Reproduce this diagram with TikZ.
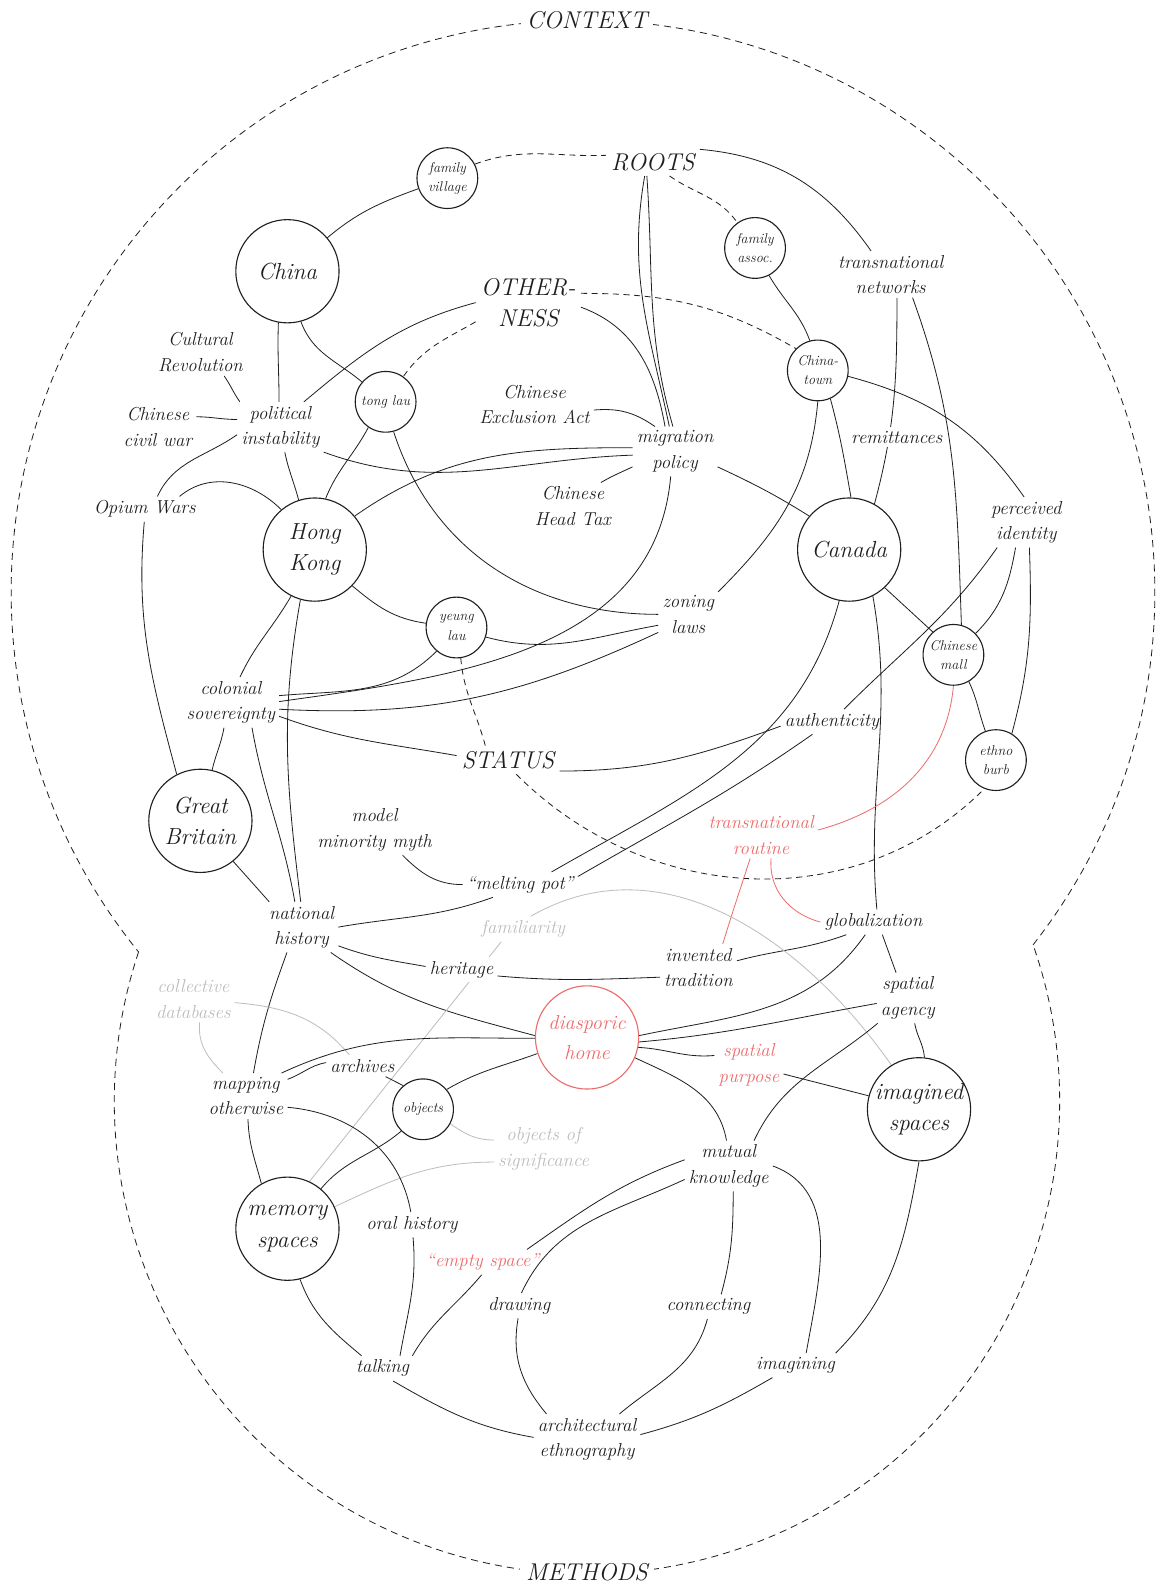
\documentclass[tikz,border=0pt]{standalone}
\usepackage{fontspec}
\definecolor{ink}{HTML}{1F1F1F}
\definecolor{salmon}{HTML}{EE6B6B}
\definecolor{mist}{HTML}{BDBDBD}
\pgfdeclarelayer{back}
\pgfdeclarelayer{edges}
\pgfsetlayers{back,edges,main}
\tikzset{
  lbl/.style={font=\fontsize{18.5}{25}\selectfont\itshape, text=ink, align=center, inner sep=4pt},
  theme/.style={font=\fontsize{24}{31}\selectfont\itshape, text=ink, align=center, inner sep=5pt},
  bigc/.style={circle, draw=ink, line width=1.1pt, minimum size=102pt, inner sep=0pt,
    font=\fontsize{23}{31}\selectfont\itshape, text=ink, align=center},
  smallc/.style={circle, draw=ink, line width=1.1pt, minimum size=60pt, inner sep=0pt,
    font=\fontsize{14}{19}\selectfont\itshape, text=ink, align=center},
  redtext/.style={text=salmon},
  graytext/.style={text=mist},
  ln/.style={draw=ink, line width=0.8pt},
  dln/.style={draw=ink, line width=0.8pt, dash pattern=on 6pt off 4.5pt},
  redln/.style={draw=salmon, line width=0.8pt},
  grayln/.style={draw=mist, line width=0.8pt},
  rim/.style={draw=ink, line width=0.8pt, dash pattern=on 7pt off 5pt},
}
\begin{document}
\begin{tikzpicture}[x=1pt,y=1pt]
\useasboundingbox (0,0) rectangle (1149,-1568);
\begin{pgfonlayer}{back}
  \fill[white] (0,0) rectangle (1149,-1568);
\end{pgfonlayer}

% ---------- outer boundary: two merged dashed circles ----------
\draw[rim] (576,-585) ++(-38.09:565) arc[start angle=-38.09, end angle=219.0, radius=565];
\draw[rim] (580,-1088) ++(161.59:467) arc[start angle=161.59, end angle=379.32, radius=467];
\node[theme, fill=white, inner xsep=6pt] (context) at (580,-20) {CONTEXT};
\node[theme, fill=white, inner xsep=6pt] (methods) at (580,-1553) {METHODS};

% ---------- circles ----------
\node[smallc] (fvil) at (442,-176) {family\\village};
\node[bigc] (china) at (284,-268) {China};
\node[smallc] (tong) at (381,-397) {tong lau};
\node[bigc] (hk) at (311,-543) {Hong\\Kong};
\node[smallc] (yeung) at (451,-620) {yeung\\lau};
\node[bigc] (gb) at (198,-811) {Great\\Britain};
\node[smallc] (fassoc) at (746,-245) {family\\assoc.};
\node[smallc] (ctown) at (808,-366) {China-\\town};
\node[bigc] (canada) at (839,-543) {Canada};
\node[smallc] (cmall) at (942,-647) {Chinese\\mall};
\node[smallc] (ethno) at (984,-751) {ethno\\burb};
\node[bigc, draw=salmon, text=salmon, font=\fontsize{20}{29}\selectfont\itshape] (home) at (580,-1025) {diasporic\\home};
\node[smallc] (obj) at (418,-1096) {objects};
\node[bigc] (mem) at (284,-1214) {memory\\spaces};
\node[bigc] (imag) at (908,-1096) {imagined\\spaces};

% ---------- themes ----------
\node[theme] (roots) at (645,-160) {ROOTS};
\node[theme] (other) at (522,-299) {OTHER-\\NESS};
\node[theme] (status) at (502,-751) {STATUS};

% ---------- labels ----------
\node[lbl] (cultrev) at (198,-348) {Cultural\\Revolution};
\node[lbl] (civil) at (156,-422) {Chinese\\civil war};
\node[lbl] (polit) at (277,-422) {political\\instability};
\node[lbl] (opium) at (143,-503) {Opium Wars};
\node[lbl] (excl) at (528,-400) {Chinese\\Exclusion Act};
\node[lbl] (migr) at (667,-446) {migration\\policy};
\node[lbl] (headtax) at (566,-500) {Chinese\\Head Tax};
\node[lbl] (tnet) at (880,-271) {transnational\\networks};
\node[lbl, fill=white] (remit) at (886,-432) {remittances};
\node[lbl] (perc) at (1014,-516) {perceived\\identity};
\node[lbl] (zoning) at (680,-607) {zoning\\laws};
\node[lbl] (colon) at (228,-694) {colonial\\sovereignty};
\node[lbl] (auth) at (822,-713) {authenticity};
\node[lbl] (model) at (370,-820) {model\\minority myth};
\node[lbl] (melt) at (514,-874) {“melting pot”};
\node[lbl, redtext] (troute) at (752,-825) {transnational\\routine};
\node[lbl] (nat) at (298,-916) {national\\history};
\node[lbl, graytext] (famil) at (517,-918) {familiarity};
\node[lbl] (glob) at (863,-911) {globalization};
\node[lbl, fill=white] (herit) at (456,-958) {heritage};
\node[lbl] (invent) at (690,-956) {invented\\tradition};
\node[lbl] (agency) at (897,-986) {spatial\\agency};
\node[lbl, graytext] (collect) at (191,-987) {collective\\databases};
\node[lbl] (arch) at (358,-1053) {archives};
\node[lbl] (mapping) at (243,-1083) {mapping\\otherwise};
\node[lbl, redtext] (purpose) at (740,-1052) {spatial\\purpose};
\node[lbl, graytext] (signif) at (537,-1135) {objects of\\significance};
\node[lbl] (mutual) at (720,-1152) {mutual\\knowledge};
\node[lbl] (oral) at (407,-1210) {oral history};
\node[lbl, redtext] (empty) at (477,-1247) {“empty space”};
\node[lbl] (drawing) at (513,-1290) {drawing};
\node[lbl] (connect) at (700,-1291) {connecting};
\node[lbl] (talking) at (378,-1352) {talking};
\node[lbl] (imagining) at (786,-1349) {imagining};
\node[lbl] (archeth) at (580,-1422) {architectural\\ethnography};

\begin{pgfonlayer}{edges}
% roots and otherness
\draw[ln] (china.40) to[out=40,in=200] (fvil.200);
\draw[dln] (fvil.27) to[out=20,in=182] (roots.172);
\draw[dln] (roots.-40) to[out=-35,in=125] (fassoc.125);
\draw[ln] (roots.15) to[out=-5,in=125] (tnet.130);
\draw[ln] (roots.-120) to[out=-100,in=102] (migr.103);
\draw[ln] (roots.-113) to[out=-86,in=106] (migr.95);
\draw[ln] (other.-5) to[out=-20,in=100] (migr.112);
\draw[dln] (other.10) to[out=0,in=150] (ctown.135);
\draw[ln] (other.180) to[out=195,in=40] (polit.47);
\draw[dln] (other.200) to[out=210,in=55] (tong.55);

% china and hong kong
\draw[ln] (china.-100) to[out=-92,in=90] (polit.93);
\draw[ln] (china.-75) to[out=-70,in=140] (tong.140);
\draw[ln] (cultrev.-45) to[out=-55,in=125] (polit.148);
\draw[ln] (civil.15) to[out=0,in=180] (polit.170);
\draw[ln] (polit.190) to[out=215,in=65] (opium.45);
\draw[ln] (polit.-80) to[out=-78,in=105] (hk.108);
\draw[ln] (polit.-30) to[out=-20,in=182] (migr.185);
\draw[ln] (hk.40) to[out=35,in=180] (migr.175);
\draw[ln] (opium.20) to[out=40,in=135] (hk.130);
\draw[ln] (opium.-92) to[out=-95,in=105] (gb.117);
\draw[ln] (tong.236) to[out=242,in=68] (hk.78);
\draw[ln] (tong.-75) to[out=-72,in=180] (zoning.180);
\draw[ln] (migr.-20) to[out=-25,in=148] (canada.140);
\draw[ln] (excl.-5) to[out=5,in=145] (migr.129);
\draw[ln] (migr.200) to[out=205,in=30] (headtax.40);
\draw[ln] (migr.-100) to[out=-95,in=8] (colon.1);
\draw[ln] (hk.-44) to[out=-40,in=172] (yeung.172);
\draw[ln] (hk.243) to[out=240,in=65] (colon.70);
\draw[ln] (hk.-106) to[out=-100,in=97] (nat.92);
\draw[ln] (colon.-50) to[out=-80,in=100] (nat.105);
\draw[ln] (colon.-105) to[out=-100,in=77] (gb.77);
\draw[ln] (yeung.230) to[out=225,in=5] (colon.8);
\draw[ln] (yeung.-18) to[out=-15,in=190] (zoning.200);
\draw[ln] (zoning.211) to[out=205,in=-3] (colon.-8);
\draw[ln] (colon.-16) to[out=-20,in=170] (status.175);
\draw[dln] (yeung.-82) to[out=-85,in=105] (status.148);
\draw[ln] (status.-12) to[out=0,in=200] (auth.185);
\draw[dln] (status.-60) to[out=-45,in=225] (ethno.248);

% canada side
\draw[ln] (fassoc.-63) to[out=-60,in=110] (ctown.105);
\draw[ln] (ctown.-11) to[out=-15,in=125] (perc.95);
\draw[ln] (ctown.-66) to[out=-75,in=100] (canada.88);
\draw[ln] (ctown.-90) to[out=-95,in=45] (zoning.37);
\draw[ln] (tnet.-75) to[out=-90,in=75] (canada.61);
\draw[ln] (tnet.-47) to[out=-70,in=92] (cmall.75);
\draw[ln] (canada.-47) -- (cmall.132);
\draw[ln] (perc.-113) to[out=-100,in=45] (cmall.44);
\draw[ln] (perc.-83) to[out=-88,in=75] (ethno.59);
\draw[ln] (perc.-139) to[out=-125,in=45] (auth.46);
\draw[ln] (auth.-147) to[out=-145,in=30] (melt.8);
\draw[ln] (canada.-101) to[out=-105,in=30] (melt.22);
\draw[ln] (canada.-63) to[out=-80,in=95] (glob.75);
\draw[redln] (cmall.-90) to[out=-95,in=15] (troute.5);
\draw[ln] (cmall.-60) to[out=-65,in=110] (ethno.110);
\draw[redln] (troute.-115) to[out=-108,in=73] (invent.44);
\draw[redln] (troute.-67) to[out=-95,in=165] (glob.180);
\draw[ln] (glob.-155) to[out=200,in=15] (invent.10);
\draw[ln] (glob.-55) to[out=-70,in=110] (agency.115);
\draw[ln] (glob.-123) to[out=-125,in=12] (home.2);

% national history and the home
\draw[ln] (model.-42) to[out=-45,in=180] (melt.180);
\draw[ln] (melt.205) to[out=200,in=10] (nat.0);
\draw[ln] (gb.-51) -- (nat.142);
\draw[ln] (nat.-27) to[out=-20,in=170] (herit.175);
\draw[ln] (nat.-41) to[out=-35,in=165] (home.178);
\draw[ln] (nat.-120) to[out=-110,in=80] (mapping.72);
\draw[ln] (herit.-10) to[out=-5,in=182] (invent.194);
\draw[grayln] (famil.60) to[out=30,in=125] (imag.122);
\draw[grayln] (famil.-150) -- (mem.65);
\draw[grayln] (collect.-5) to[out=-5,in=130] (arch.140);
\draw[grayln] (collect.-75) to[out=-95,in=135] (mapping.135);
\draw[ln] (mapping.33) to[out=25,in=180] (home.181);
\draw[ln] (mapping.22) to[out=20,in=190] (arch.175);
\draw[ln] (arch.-25) -- (obj.130);
\draw[ln] (obj.40) to[out=30,in=200] (home.198);
\draw[grayln] (obj.-28) to[out=-35,in=180] (signif.170);
\draw[grayln] (signif.195) to[out=180,in=25] (mem.25);
\draw[ln] (obj.225) to[out=220,in=50] (mem.50);
\draw[ln] (mapping.-85) to[out=-88,in=105] (mem.120);
\draw[ln] (mapping.-15) to[out=-5,in=100] (oral.95);

% methods
\draw[ln] (oral.-85) to[out=-85,in=80] (talking.36);
\draw[ln] (mem.-76) to[out=-70,in=140] (talking.149);
\draw[ln] (empty.-95) to[out=-130,in=60] (talking.23);
\draw[ln] (empty.16) to[out=35,in=200] (mutual.172);
\draw[ln] (drawing.80) to[out=65,in=205] (mutual.197);
\draw[ln] (drawing.-95) to[out=-100,in=130] (archeth.148);
\draw[ln] (mutual.-80) to[out=-90,in=75] (connect.44);
\draw[ln] (connect.-95) to[out=-105,in=40] (archeth.38);
\draw[ln] (mutual.0) to[out=-20,in=80] (imagining.49);
\draw[ln] (imag.-90) to[out=-100,in=45] (imagining.17);
\draw[ln] (imagining.-152) to[out=210,in=15] (archeth.5);
\draw[ln] (talking.-50) to[out=-30,in=170] (archeth.178);
\draw[ln] (home.-23) to[out=-25,in=100] (mutual.95);
\draw[ln] (home.-5) to[out=5,in=190] (agency.190);
\draw[ln] (home.-11) to[out=-3,in=185] (purpose.165);
\draw[ln] (purpose.-15) -- (imag.165);
\draw[ln] (agency.-75) to[out=-80,in=95] (imag.84);
\draw[ln] (agency.-140) to[out=-140,in=65] (mutual.45);
\end{pgfonlayer}
\end{tikzpicture}
\end{document}
